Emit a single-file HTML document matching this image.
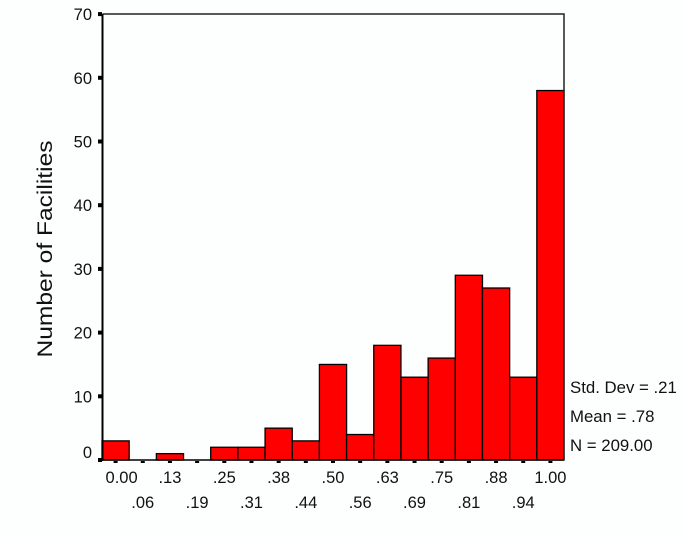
<!DOCTYPE html>
<html><head><meta charset="utf-8"><style>
html,body{margin:0;padding:0;background:#fdffff;}
svg{display:block;font-family:"Liberation Sans",sans-serif;}
</style></head><body>
<svg width="685" height="537" viewBox="0 0 685 537">
<rect x="0" y="0" width="685" height="537" fill="#fdffff"/>
<g id="bars" fill="#ff0000" stroke="#000" stroke-width="1.3"></g>
<polyline points="102.5,14 564,14 564,460" fill="none" stroke="#222" stroke-width="1.5"/>
<line x1="102.5" y1="14" x2="102.5" y2="461" stroke="#000" stroke-width="2"/>
<line x1="102" y1="460" x2="564" y2="460" stroke="#000" stroke-width="1.5"/>
<g id="y" font-size="16.5" text-anchor="end" fill="#111"></g>
<g id="x" font-size="16.5" text-anchor="middle" fill="#111"></g>
<text transform="translate(52,249) rotate(-90)" font-size="21" textLength="217" lengthAdjust="spacingAndGlyphs" text-anchor="middle" fill="#111">Number of Facilities</text>
<g font-size="16.8" fill="#111">
<text x="570" y="393">Std. Dev = .21</text>
<text x="570" y="422">Mean = .78</text>
<text x="570" y="451">N = 209.00</text>
</g>
</svg>
<script>
var v=[3,0,1,0,2,2,5,3,15,4,18,13,16,29,27,13,58];
var lab=["0.00",".06",".13",".19",".25",".31",".38",".44",".50",".56",".63",".69",".75",".81",".88",".94","1.00"];
var ns="http://www.w3.org/2000/svg",w=(564-102)/17,s=6.37;
var b=document.getElementById("bars"),xg=document.getElementById("x"),yg=document.getElementById("y");
v.forEach(function(d,i){
 var x=102+w*i;
 if(d>0){var r=document.createElementNS(ns,"rect");r.setAttribute("x",x);r.setAttribute("y",460-d*s);r.setAttribute("width",w);r.setAttribute("height",d*s);b.appendChild(r);}
 var t=document.createElementNS(ns,"rect");t.setAttribute("x",x+w/2-2);t.setAttribute("y",461);t.setAttribute("width",4);t.setAttribute("height",2);t.setAttribute("fill","#000");xg.appendChild(t);
 var tx=document.createElementNS(ns,"text");tx.setAttribute("x",x+w/2+(i==0?6:0));tx.setAttribute("y",i%2==0?483:508);tx.textContent=lab[i];xg.appendChild(tx);
});
for(var k=0;k<=7;k++){
 var y=460-k*10*s;
 var t=document.createElementNS(ns,"rect");t.setAttribute("x",98);t.setAttribute("y",y-2);t.setAttribute("width",4);t.setAttribute("height",4);t.setAttribute("fill","#000");yg.appendChild(t);
 var tx=document.createElementNS(ns,"text");tx.setAttribute("x",92);tx.setAttribute("y",(k==0?y-2:y+6));tx.textContent=k*10;yg.appendChild(tx);
}
</script>
</body></html>
